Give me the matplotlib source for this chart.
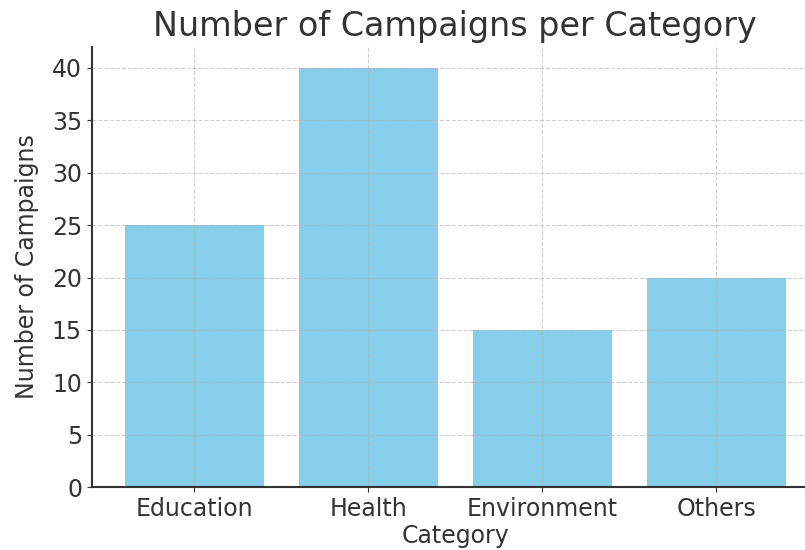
import matplotlib.pyplot as plt

categories = ["Education", "Health", "Environment", "Others"]
campaigns = [25, 40, 15, 20]

fig = plt.figure(figsize=(8.05, 5.5), dpi=100)
ax = fig.add_axes([0.114, 0.1145, 0.903, 0.80])

ax.bar(categories, campaigns, color="skyblue", width=0.8)
ax.grid(True, linestyle="--", color="#b0b0b0", linewidth=0.8, alpha=0.6)

text_color = "#333333"
ax.set_title("Number of Campaigns per Category", fontsize=24, color=text_color, pad=8)
ax.set_xlabel("Category", fontsize=17, color=text_color, labelpad=2)
ax.set_ylabel("Number of Campaigns", fontsize=17, color=text_color, labelpad=9)
ax.tick_params(labelsize=17, colors=text_color, labelcolor=text_color)
ax.set_yticks(range(0, 41, 5))

ax.spines["top"].set_visible(False)
ax.spines["right"].set_visible(False)
ax.spines["left"].set_color(text_color)
ax.spines["bottom"].set_color(text_color)
ax.spines["left"].set_linewidth(1.5)
ax.spines["bottom"].set_linewidth(1.5)

fig.savefig("out.png", dpi=100)
